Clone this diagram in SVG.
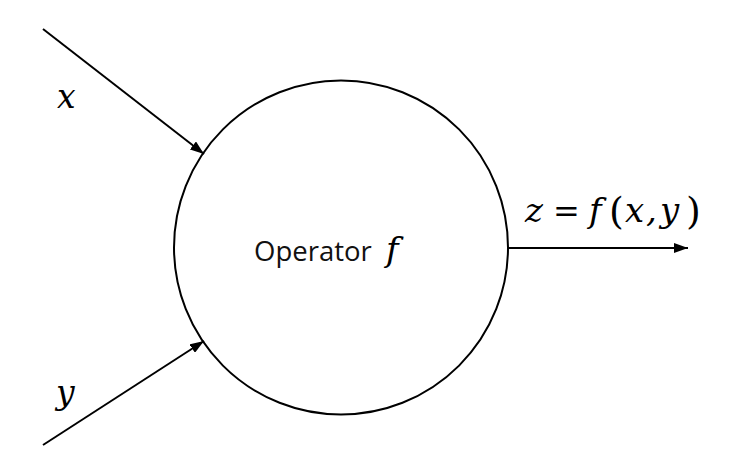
<svg xmlns="http://www.w3.org/2000/svg" width="744" height="456" viewBox="0 0 744 456">
<style>
.edge{stroke:#000;stroke-width:2;fill:none}
.math{font-family:"DejaVu Serif","Liberation Serif",serif;font-style:italic;fill:#000}
.up{font-style:normal}
.lbl{font-family:"Open Sans","Noto Sans",sans-serif;fill:#111}
</style>
<defs>
<marker id="arr" viewBox="0 0 14 10" refX="14" refY="5" markerWidth="14" markerHeight="10" markerUnits="userSpaceOnUse" orient="auto">
<path d="M0,0 L14,5 L0,10 Z" fill="#000"/>
</marker>
</defs>
<rect width="744" height="456" fill="#fff"/>
<g id="operator">
<circle cx="341" cy="247.5" r="167" fill="#fff" stroke="#000" stroke-width="2"/>
<text x="254" y="261" class="lbl" font-size="27.5">Operator</text>
<text x="386" y="261" class="math" font-size="34">f</text>
</g>
<g id="connectors">
<line class="edge" x1="43" y1="29" x2="204" y2="154" marker-end="url(#arr)"/>
<line class="edge" x1="43" y1="445" x2="204" y2="341" marker-end="url(#arr)"/>
<line class="edge" x1="508" y1="248" x2="688" y2="248" marker-end="url(#arr)"/>
</g>
<g id="labels">
<text x="57" y="108" class="math" font-size="33">x</text>
<text x="56" y="404" class="math" font-size="33">y</text>
<text y="222" class="math" font-size="34"><tspan x="525">z</tspan><tspan x="553" class="up" font-size="32">=</tspan><tspan x="589">f</tspan><tspan x="609" y="224" class="up" font-size="38">(</tspan><tspan x="625" y="222">x</tspan><tspan x="646">,</tspan><tspan x="660">y</tspan><tspan x="686" y="224" class="up" font-size="38">)</tspan></text>
</g>
</svg>
